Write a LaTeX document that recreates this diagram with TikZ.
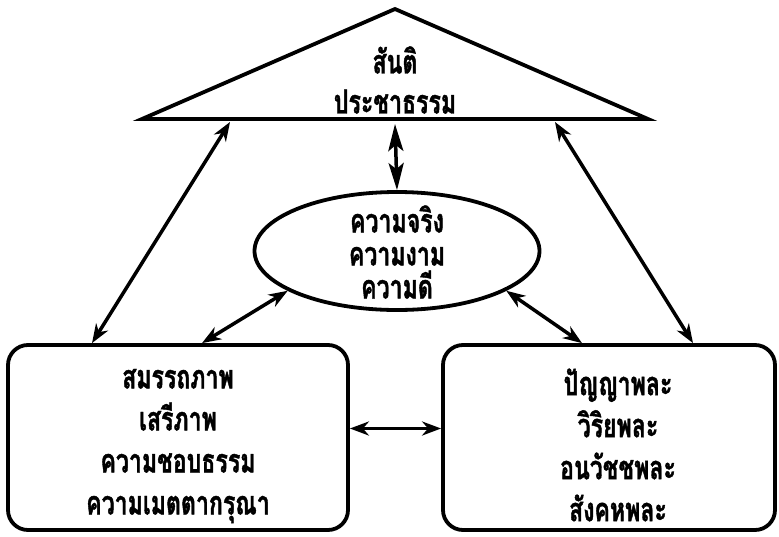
\documentclass[tikz,border=0pt]{standalone}
\usepackage{fontspec}
\newfontfamily\thaifont[Script=Thai,FakeStretch=0.7,BoldFeatures={FakeBold=1.2}]{Loma}
\usetikzlibrary{arrows.meta,shapes.geometric,calc}
\begin{document}
\begin{tikzpicture}[x=1pt,y=-1pt,
  shapeline/.style={line width=3.8pt},
  conn/.style={line width=3.5pt,{Stealth[length=19pt,width=14pt,inset=6pt]}-{Stealth[length=19pt,width=14pt,inset=6pt]}},
  lbl/.style={font=\thaifont\bfseries\fontsize{33}{42}\selectfont, align=center, inner sep=0pt},
  box/.style={draw,line width=3.8pt,rounded corners=20pt}]
\useasboundingbox (0,0) rectangle (779,536);
% triangle
\coordinate (apex) at (395,9);
\coordinate (bl) at (142,119);
\coordinate (br) at (648,119);
\draw[shapeline,line join=miter] (apex) -- (bl) -- (br) -- cycle;
\node[lbl,font=\thaifont\bfseries\fontsize{33}{40}\selectfont] (tritext) at (395,80) {สันติ\\ประชาธรรม};
% ellipse
\node[draw,shapeline,ellipse,minimum width=285pt,minimum height=118pt,inner sep=0pt] (E) at (397,251) {};
\node[lbl,font=\thaifont\bfseries\fontsize{33}{33}\selectfont] (Etext) at (397,252) {ความจริง\\ความงาม\\ความดี};
% boxes
\node[box,minimum width=340pt,minimum height=185pt] (L) at (178,437.5) {};
\node[lbl] (Ltext) at (178,446) {สมรรถภาพ\\เสรีภาพ\\ความชอบธรรม\\ความเมตตากรุณา};
\node[box,minimum width=332pt,minimum height=185pt] (R) at (609,437.5) {};
\node[lbl] (Rtext) at (618,445) {ปัญญาพละ\\วิริยพละ\\อนวัชชพละ\\สังคหพละ};
% connection points on triangle base
\coordinate (tb1) at (230,122);
\coordinate (tb2) at (395,124);
\coordinate (tb3) at (555,122);
% connectors
\draw[conn] (tb1) -- ([xshift=-86pt]L.north);
\draw[conn] (tb3) -- ([xshift=84pt]R.north);
\draw[conn,{Stealth[length=27pt,width=15pt,inset=6pt]}-{Stealth[length=27pt,width=15pt,inset=6pt]}] (tb2) -- (E.north);
\draw[conn] (E.200) -- ([xshift=24pt]L.north);
\draw[conn] (E.340) -- ([xshift=-27pt]R.north);
\coordinate (hm) at ([yshift=9pt]L.east);
\draw[conn] (hm) -- (hm -| R.west);
\end{tikzpicture}
\end{document}
